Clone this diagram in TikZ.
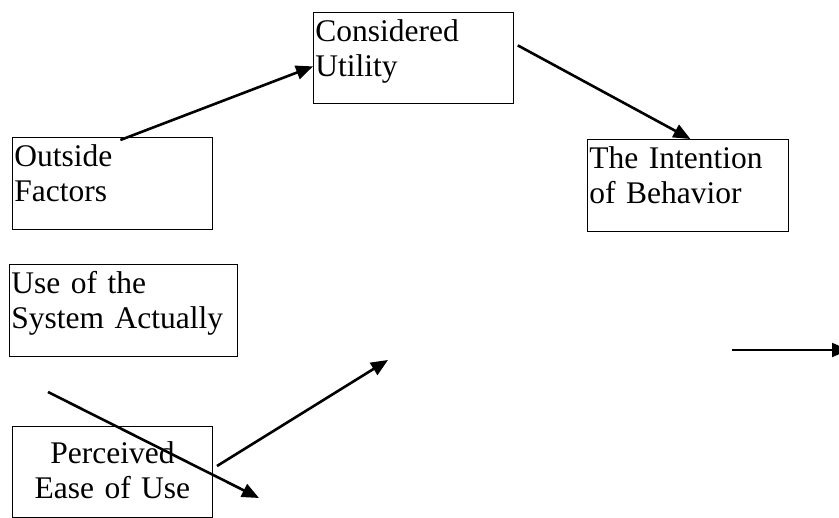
\documentclass[tikz,border=0pt]{standalone}
\usepackage{fontspec}
\setmainfont{Liberation Serif}
\usetikzlibrary{arrows.meta}
\tikzset{
  box/.style={draw, line width=0.8pt, anchor=north west, inner xsep=2pt, inner ysep=0pt,
    text height=29pt, align=left, font=\fontsize{31.5}{35}\selectfont},
  link/.style={line width=2.6pt, -{Triangle[length=17pt,width=14pt]}}
}

\begin{document}
\begin{tikzpicture}[x=1pt, y=-1pt]
    \useasboundingbox (0, 0) rectangle (839, 518);
    \node[box, text width=196pt, text depth=62pt] (cu) at (313, 12) {Considered\\Utility};
    \node[box, text width=196pt, text depth=63pt] (of) at (12, 137) {Outside\\Factors};
    \node[box, text width=197pt, text depth=63pt] (ib) at (587, 139) {The Intention\\of Behavior};
    \node[box, text width=224pt, text depth=63pt] (us) at (9, 264) {Use of the\\System Actually};
    \node[box, text width=196pt, text height=37pt, text depth=54pt, align=center] (pe) at (12, 426) {Perceived\\Ease of Use};
    \coordinate (s1) at (48, 392);
    \coordinate (e1) at (259, 498);
    \coordinate (s2) at (217, 466);
    \coordinate (e2) at (388, 360);
    \coordinate (s3) at (732, 350);
    \coordinate (e3) at (849, 350);
    \draw[link] ([xshift=8pt, yshift=-3pt]of.north) -- ([yshift=-8.5pt]cu.west);
    \draw[link] ([xshift=4pt, yshift=12.5pt]cu.east) -- ([xshift=2.5pt]ib.north);
    \draw[link] (s1) -- (e1);
    \draw[link] (s2) -- (e2);
    \draw[link, line width=2pt] (s3) -- (e3);
  \end{tikzpicture}
\end{document}
